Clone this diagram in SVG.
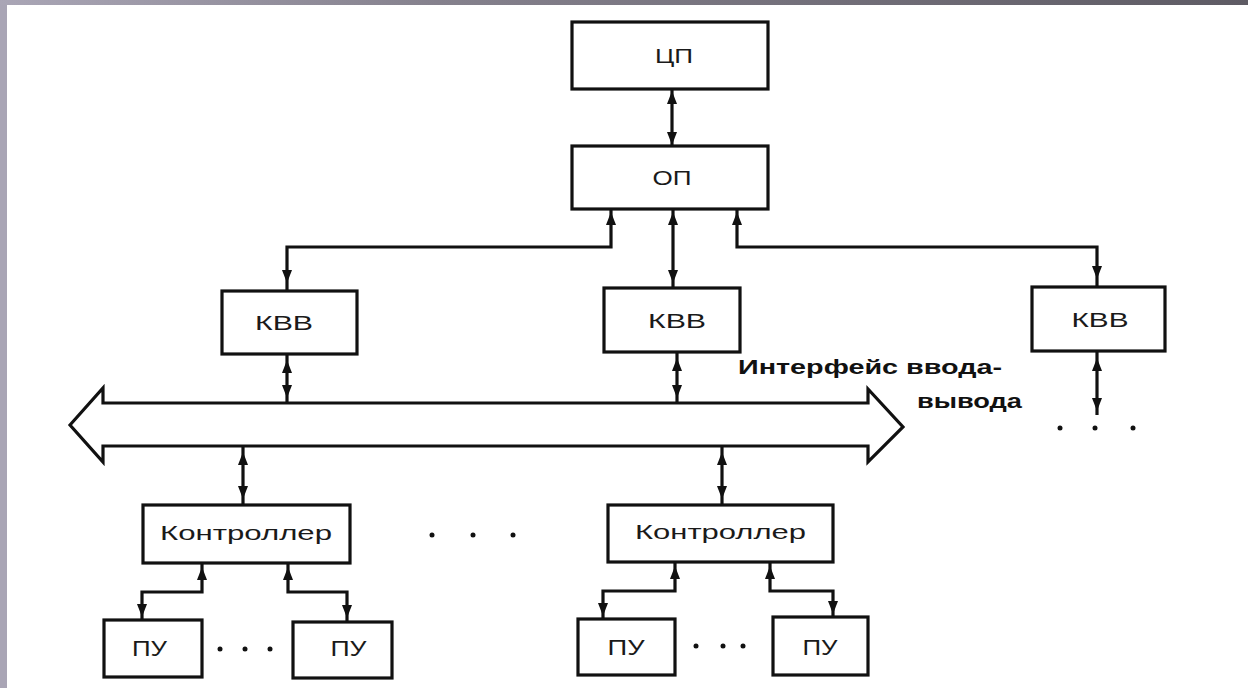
<svg xmlns="http://www.w3.org/2000/svg" xmlns:xlink="http://www.w3.org/1999/xlink" width="1248" height="688" viewBox="0 0 1248 688">
<style>
.box{fill:#fff;stroke:#111;stroke-width:3.2}
.ln{fill:none;stroke:#111;stroke-width:3.2}
.t{font-family:"Liberation Sans",Arial,sans-serif;fill:#1a1a1a;text-anchor:middle}
.lbl{font-family:"Liberation Sans",Arial,sans-serif;fill:#111;font-weight:bold;font-size:21px}
.dot{fill:#111}
</style>
<defs>
<linearGradient id="topg" x1="0" y1="0" x2="1" y2="0">
<stop offset="0" stop-color="#aaa6b6"/>
<stop offset="0.35" stop-color="#85818d"/>
<stop offset="1" stop-color="#5e5b64"/>
</linearGradient>
<path id="up" d="M0,0 L-5,13 L5,13 Z" fill="#111"/>
<path id="dn" d="M0,0 L-5,-13 L5,-13 Z" fill="#111"/>
</defs>
<rect x="0" y="0" width="1248" height="688" fill="#fff"/>
<rect x="0" y="0" width="7" height="688" fill="#a9a5b5"/>
<rect x="0" y="0" width="1248" height="5" fill="url(#topg)"/>

<g id="connectors">
<path class="ln" d="M672,89 V146"/>
<use xlink:href="#up" x="672" y="91"/>
<use xlink:href="#dn" x="672" y="145"/>
<path class="ln" d="M611,209 V247 H287 V291"/>
<use xlink:href="#up" x="611" y="212"/>
<use xlink:href="#dn" x="287" y="283"/>
<path class="ln" d="M673,209 V288"/>
<use xlink:href="#up" x="673" y="212"/>
<use xlink:href="#dn" x="673" y="283"/>
<path class="ln" d="M737,209 V247 H1097 V287"/>
<use xlink:href="#up" x="737" y="212"/>
<use xlink:href="#dn" x="1097" y="279"/>
<path class="ln" d="M287,354 V403"/>
<use xlink:href="#up" x="287" y="360"/>
<use xlink:href="#dn" x="287" y="398"/>
<path class="ln" d="M677,352 V403"/>
<use xlink:href="#up" x="677" y="358"/>
<use xlink:href="#dn" x="677" y="398"/>
<path class="ln" d="M1097,351 V415"/>
<use xlink:href="#up" x="1097" y="358"/>
<use xlink:href="#dn" x="1097" y="411"/>
<path class="ln" d="M243,446 V505"/>
<use xlink:href="#up" x="243" y="452"/>
<use xlink:href="#dn" x="243" y="499"/>
<path class="ln" d="M722,446 V505"/>
<use xlink:href="#up" x="722" y="452"/>
<use xlink:href="#dn" x="722" y="499"/>
<path class="ln" d="M202,563 V592 H142 V620"/>
<use xlink:href="#up" x="202" y="567"/>
<use xlink:href="#dn" x="142" y="617"/>
<path class="ln" d="M288,563 V592 H347 V622"/>
<use xlink:href="#up" x="288" y="567"/>
<use xlink:href="#dn" x="347" y="618"/>
<path class="ln" d="M675,562 V591 H603 V619"/>
<use xlink:href="#up" x="675" y="566"/>
<use xlink:href="#dn" x="603" y="616"/>
<path class="ln" d="M770,562 V591 H833 V617"/>
<use xlink:href="#up" x="770" y="566"/>
<use xlink:href="#dn" x="833" y="614"/>
</g>

<g id="bus">
<path class="box" d="M70,425 L103,388 V403 H868 V389 L903,427 L868,462 V446 H103 V462 Z"/>
<text class="lbl" x="738" y="374" textLength="264" lengthAdjust="spacingAndGlyphs">Интерфейс ввода-</text>
<text class="lbl" x="917" y="408" textLength="105" lengthAdjust="spacingAndGlyphs">вывода</text>
</g>

<g id="cp"><rect class="box" x="572" y="22" width="196" height="67"/><text class="t" x="674" y="63" font-size="20" textLength="38" lengthAdjust="spacingAndGlyphs">ЦП</text></g>
<g id="op"><rect class="box" x="572" y="146" width="196" height="63"/><text class="t" x="672" y="185" font-size="20" textLength="39" lengthAdjust="spacingAndGlyphs">ОП</text></g>
<g id="kvv1"><rect class="box" x="222" y="291" width="135" height="63"/><text class="t" x="284" y="330" font-size="21" textLength="58" lengthAdjust="spacingAndGlyphs">КВВ</text></g>
<g id="kvv2"><rect class="box" x="604" y="288" width="136" height="64"/><text class="t" x="677" y="328" font-size="21" textLength="58" lengthAdjust="spacingAndGlyphs">КВВ</text></g>
<g id="kvv3"><rect class="box" x="1032" y="287" width="133" height="64"/><text class="t" x="1100" y="327" font-size="21" textLength="57" lengthAdjust="spacingAndGlyphs">КВВ</text></g>
<g id="ctrl1"><rect class="box" x="143" y="505" width="207" height="58"/><text class="t" x="246" y="540" font-size="20" textLength="172" lengthAdjust="spacingAndGlyphs">Контроллер</text></g>
<g id="ctrl2"><rect class="box" x="608" y="505" width="225" height="57"/><text class="t" x="720.5" y="539" font-size="20" textLength="171" lengthAdjust="spacingAndGlyphs">Контроллер</text></g>
<g id="pu1"><rect class="box" x="104" y="620" width="98" height="57"/><text class="t" x="149.5" y="656" font-size="22" textLength="35" lengthAdjust="spacingAndGlyphs">ПУ</text></g>
<g id="pu2"><rect class="box" x="293" y="622" width="99" height="56"/><text class="t" x="348.5" y="656" font-size="22" textLength="36" lengthAdjust="spacingAndGlyphs">ПУ</text></g>
<g id="pu3"><rect class="box" x="578" y="619" width="97" height="56"/><text class="t" x="626" y="655" font-size="22" textLength="37" lengthAdjust="spacingAndGlyphs">ПУ</text></g>
<g id="pu4"><rect class="box" x="773" y="617" width="95" height="58"/><text class="t" x="820" y="655" font-size="22" textLength="35" lengthAdjust="spacingAndGlyphs">ПУ</text></g>

<g id="dots">
<circle class="dot" cx="432" cy="535" r="2.5"/><circle class="dot" cx="473" cy="535" r="2.5"/><circle class="dot" cx="513" cy="535" r="2.5"/>
<circle class="dot" cx="220" cy="649" r="2.5"/><circle class="dot" cx="245" cy="649" r="2.5"/><circle class="dot" cx="270" cy="649" r="2.5"/>
<circle class="dot" cx="696" cy="646" r="2.5"/><circle class="dot" cx="723" cy="646" r="2.5"/><circle class="dot" cx="743" cy="646" r="2.5"/>
<circle class="dot" cx="1060" cy="428" r="2.5"/><circle class="dot" cx="1095" cy="428" r="2.5"/><circle class="dot" cx="1133" cy="428" r="2.5"/>
</g>
</svg>
